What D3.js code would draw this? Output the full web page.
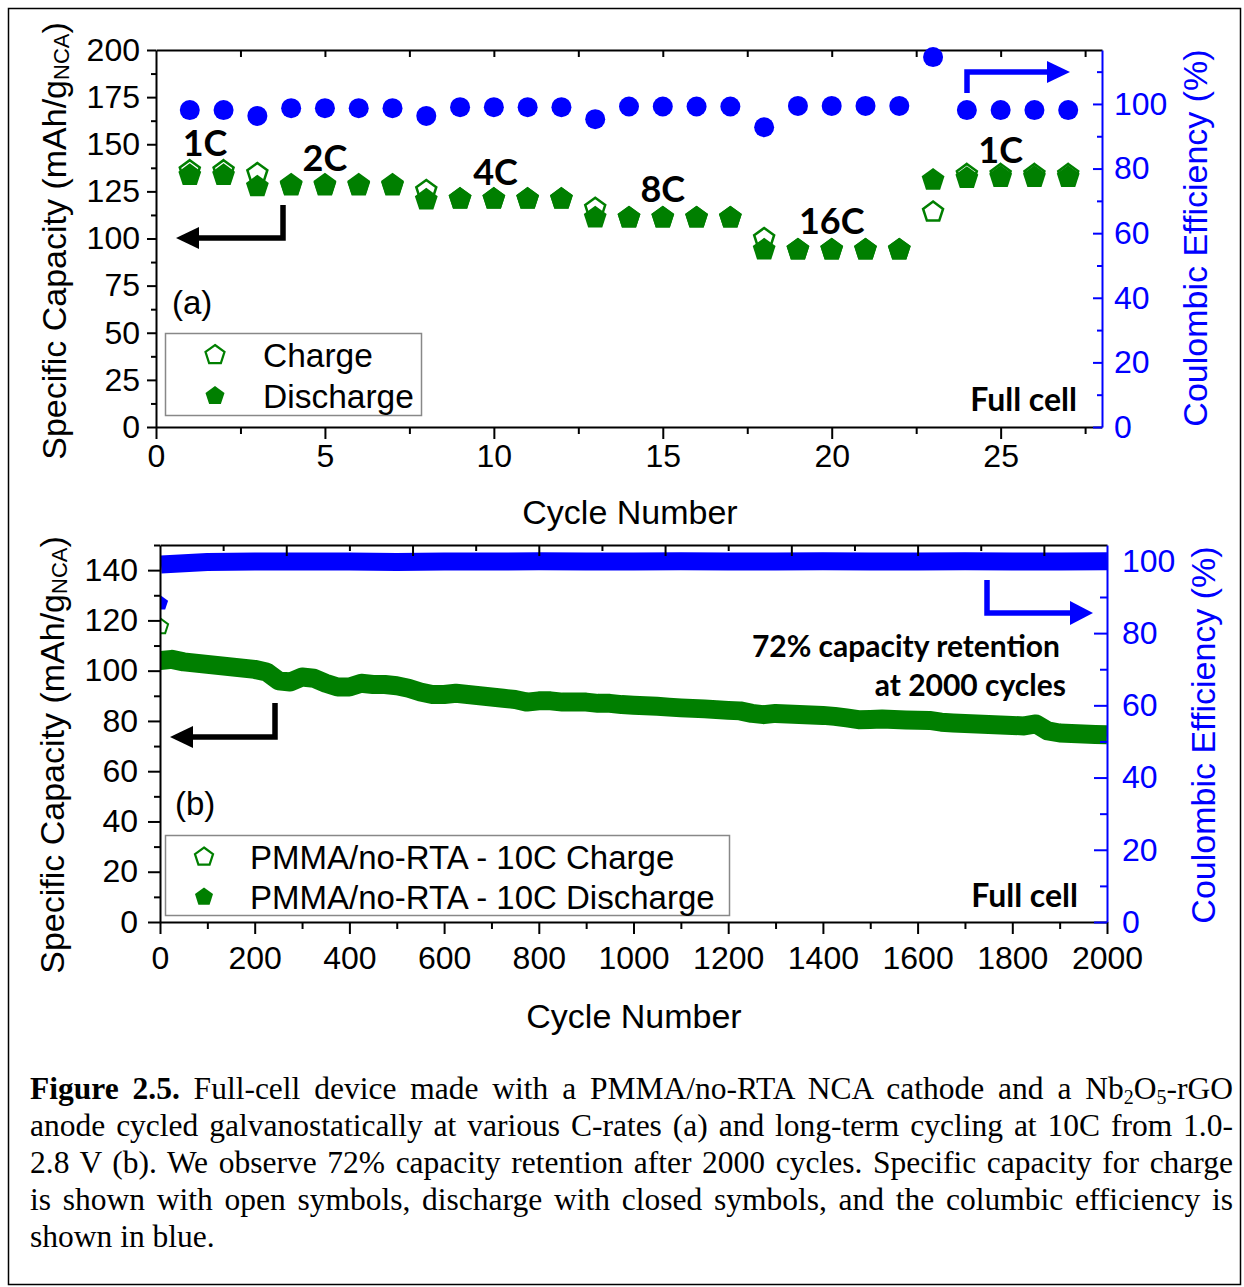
<!DOCTYPE html>
<html>
<head>
<meta charset="utf-8">
<script src="https://cdn.jsdelivr.net/npm/d3@7"></script>
<style>
  body { margin: 0; background: #fff; }
</style>
</head>
<body>
<div id="fig"></div>
<script>
"use strict";

// ---- panel (a): rate test ----
const rateCycles = [1, 2, 3, 4, 5, 6, 7, 8, 9, 10, 11, 12, 13, 14, 15, 16, 17, 18, 19, 20, 21, 22, 23, 24, 25, 26, 27];
const rateCharge = [136, 136, 134.5, 128.5, 128.5, 128.5, 128.5, 125.5, 121, 121, 121, 121, 116, 111, 111, 111, 111, 100, 94, 94, 94, 94, 114, 134, 134, 134, 134];
const rateDischarge = [133.5, 133.5, 127.5, 128, 128, 128, 128, 120.5, 121, 121, 121, 121, 111, 111, 111, 111, 111, 94, 94, 94, 94, 94, 131, 132, 132.5, 132.5, 132.5];
const rateCE = [98.1, 98.1, 96.3, 98.7, 98.7, 98.7, 98.7, 96.3, 99, 99, 99, 99, 95.3, 99.2, 99.2, 99.2, 99.2, 92.8, 99.4, 99.4, 99.4, 99.4, 114.5, 98.1, 98.1, 98.1, 98.1];
const rateLabels = ["1C", "2C", "4C", "8C", "16C", "1C"];

// ---- panel (b): long-term 10C ----
const longCycles = [0, 25, 50, 75, 100, 125, 150, 175, 200, 225,
  250, 275, 300, 325, 350, 375, 400, 425, 450, 475,
  500, 525, 550, 575, 600, 625, 650, 675, 700, 725,
  750, 775, 800, 825, 850, 875, 900, 925, 950, 975,
  1000, 1025, 1050, 1075, 1100, 1125, 1150, 1175, 1200, 1225,
  1250, 1275, 1300, 1325, 1350, 1375, 1400, 1425, 1450, 1475,
  1500, 1525, 1550, 1575, 1600, 1625, 1650, 1675, 1700, 1725,
  1750, 1775, 1800, 1825, 1850, 1875, 1900, 1925, 1950, 1975, 2000];
const longDischarge = [104, 104.5, 103.5, 103, 102.5, 102, 101.5, 101, 100.5, 99.5,
  96, 95.5, 97.5, 97, 95, 93.5, 93.5, 95, 94.5, 94.5,
  94, 93, 91.5, 90.5, 90.5, 91, 90.5, 90, 89.5, 89,
  88.5, 87.5, 88, 88, 87.5, 87.5, 87.5, 87, 87, 86.5,
  86.2, 86, 85.8, 85.5, 85.2, 85, 84.8, 84.5, 84.2, 84,
  83, 82.5, 83, 82.8, 82.6, 82.4, 82.2, 81.8, 81.2, 80.5,
  80.6, 80.8, 80.6, 80.4, 80.3, 80.2, 79.5, 79.2, 79, 78.8,
  78.6, 78.4, 78.2, 78, 78.8, 76, 75.2, 75, 74.8, 74.6, 74.5];
const ceCycles = [2, 100, 200, 300, 400, 500, 600, 700, 800, 900, 1000, 1100, 1200, 1300, 1400, 1500, 1600, 1700, 1800, 1900, 2000];
const ceLong = [99.0, 99.7, 99.8, 99.8, 99.8, 99.7, 99.8, 99.8, 99.9, 99.8, 99.8, 99.9, 99.8, 99.8, 99.9, 99.8, 99.8, 99.9, 99.8, 99.8, 99.9];
const firstCycle = 1;
const firstCharge = 117.5;
const firstCE = 88.3;

const legendA = ["Charge", "Discharge"];
const legendB = ["PMMA/no-RTA - 10C Charge", "PMMA/no-RTA - 10C Discharge"];

const green = "#007f00";
const blue = "#0000ff";
const sans = "'Liberation Sans', Arial, sans-serif";
const boldFont = "Lato, 'Open Sans', sans-serif";

const svg = d3
  .select("#fig")
  .append("svg")
  .attr("width", 1244)
  .attr("height", 1287)
  .style("font-family", sans);

svg.append("rect")
  .attr("x", 8.5).attr("y", 8.5)
  .attr("width", 1232).attr("height", 1276)
  .attr("fill", "none").attr("stroke", "#000").attr("stroke-width", 1.5);

const pentagon = function (r) {
  const pts = [0, 1, 2, 3, 4].map((k) => {
    const a = -Math.PI / 2 + (k * 2 * Math.PI) / 5;
    return [r * Math.cos(a), r * Math.sin(a)];
  });
  return "M" + pts.map((p) => p.join(",")).join("L") + "Z";
};

const styleAxis = function (g, color) {
  g.select(".domain").attr("stroke", color).attr("stroke-width", 2);
  g.selectAll(".tick line").attr("stroke", color).attr("stroke-width", 2);
  g.selectAll(".tick text").attr("fill", color).attr("font-size", 32).attr("font-family", sans);
};

const minorOnly = function (g, color) {
  g.select(".domain").remove();
  g.selectAll(".tick line").attr("stroke", color).attr("stroke-width", 2);
};

const arrow = function (pts, tip, dir, half, color) {
  svg.append("path")
    .attr("d", d3.line()(pts))
    .attr("fill", "none").attr("stroke", color).attr("stroke-width", 5.5);
  const len = 23 * dir;
  svg.append("path")
    .attr("d", `M${tip[0]},${tip[1]}L${tip[0] - len},${tip[1] - half}L${tip[0] - len},${tip[1] + half}Z`)
    .attr("fill", color);
};

// ================= panel (a) =================
const xA = d3.scaleLinear().domain([0, 28]).range([156, 1102]);
const yA = d3.scaleLinear().domain([0, 200]).range([427, 50]);
const yA2 = d3.scaleLinear().domain([0, 116.7]).range([427, 50]);

// top axis
svg.append("g").attr("transform", "translate(0,50)")
  .call(d3.axisTop(xA).tickValues([2.5, 5, 7.5, 10, 12.5, 15, 17.5, 20, 22.5, 25, 27.5]).tickSize(-7).tickSizeOuter(0).tickFormat(""))
  .call((g) => styleAxis(g, "#000"));
// bottom axis
svg.append("g").attr("transform", "translate(0,427)")
  .call(d3.axisBottom(xA).tickValues([2.5, 7.5, 12.5, 17.5, 22.5, 27.5]).tickSize(7).tickFormat(""))
  .call((g) => minorOnly(g, "#000"));
svg.append("g").attr("transform", "translate(0,427)")
  .call(d3.axisBottom(xA).tickValues([0, 5, 10, 15, 20, 25]).tickSize(12).tickSizeOuter(0).tickPadding(5))
  .call((g) => styleAxis(g, "#000"));
// left axis
svg.append("g").attr("transform", "translate(156,0)")
  .call(d3.axisLeft(yA).tickValues([12.5, 37.5, 62.5, 87.5, 112.5, 137.5, 162.5, 187.5]).tickSize(5).tickFormat(""))
  .call((g) => minorOnly(g, "#000"));
svg.append("g").attr("transform", "translate(156,0)")
  .call(d3.axisLeft(yA).tickValues([0, 25, 50, 75, 100, 125, 150, 175, 200]).tickSize(9).tickSizeOuter(0).tickPadding(7))
  .call((g) => styleAxis(g, "#000"));
// right axis
svg.append("g").attr("transform", "translate(1102,0)")
  .call(d3.axisRight(yA2).tickValues([10, 30, 50, 70, 90, 110]).tickSize(-5).tickFormat(""))
  .call((g) => minorOnly(g, blue));
svg.append("g").attr("transform", "translate(1102,0)")
  .call(d3.axisRight(yA2).tickValues([0, 20, 40, 60, 80, 100]).tickSize(-9).tickSizeOuter(0).tickPadding(12))
  .call((g) => styleAxis(g, blue));

// data (a)
svg.append("g").selectAll("circle")
  .data(rateCycles)
  .enter()
  .append("circle")
  .attr("cx", (d) => xA(d))
  .attr("cy", (d, i) => yA2(rateCE[i]))
  .attr("r", 10)
  .attr("fill", blue);

svg.append("g").selectAll("path")
  .data(rateCycles)
  .enter()
  .append("path")
  .attr("transform", (d, i) => `translate(${xA(d)},${yA(rateCharge[i])})`)
  .attr("d", pentagon(10.5))
  .attr("fill", "#fff").attr("stroke", green).attr("stroke-width", 2.5);

svg.append("g").selectAll("path")
  .data(rateCycles)
  .enter()
  .append("path")
  .attr("transform", (d, i) => `translate(${xA(d)},${yA(rateDischarge[i])})`)
  .attr("d", pentagon(12))
  .attr("fill", green);

const ratePos = [[1.45, 151], [5, 143], [10.05, 136], [15, 127], [20, 110], [25, 147.5]];
svg.append("g").selectAll("text")
  .data(rateLabels)
  .enter()
  .append("text")
  .attr("x", (d, i) => xA(ratePos[i][0]))
  .attr("y", (d, i) => yA(ratePos[i][1]))
  .attr("text-anchor", "middle")
  .attr("dominant-baseline", "central")
  .attr("font-family", boldFont)
  .attr("font-weight", "bold")
  .attr("font-size", 36)
  .text((d) => d);

svg.append("text").attr("x", 172).attr("y", 302).attr("dominant-baseline", "central")
  .attr("font-size", 33).text("(a)");
svg.append("text").attr("x", 1077).attr("y", 398).attr("dominant-baseline", "central")
  .attr("text-anchor", "end").attr("font-family", boldFont).attr("font-weight", "bold")
  .attr("font-size", 32).text("Full cell");

arrow([[283, 205], [283, 238], [198, 238]], [176, 238], -1, 11, "#000");
arrow([[967, 93], [967, 72], [1048, 72]], [1070, 72], 1, 11, blue);

// legend (a)
svg.append("rect").attr("x", 165.5).attr("y", 333.5).attr("width", 256).attr("height", 82)
  .attr("fill", "#fff").attr("stroke", "#888").attr("stroke-width", 1.5);
legendA.forEach((t, i) => {
  const yy = 355 + i * 41;
  svg.append("path").attr("transform", `translate(215,${yy})`).attr("d", pentagon(10))
    .attr("fill", i === 0 ? "#fff" : green).attr("stroke", green).attr("stroke-width", i === 0 ? 2.2 : 0);
  svg.append("text").attr("x", 263).attr("y", yy).attr("dominant-baseline", "central")
    .attr("font-size", 33.5).text(t);
});

// axis titles
const yTitle = function (x, y) {
  const t = svg.append("text")
    .attr("transform", `translate(${x},${y}) rotate(-90)`)
    .attr("text-anchor", "middle")
    .attr("dominant-baseline", "central")
    .attr("font-size", 34);
  t.append("tspan").text("Specific Capacity (mAh/g");
  t.append("tspan").attr("font-size", 22).attr("dy", 7).text("NCA");
  t.append("tspan").attr("dy", -7).text(")");
};
const y2Title = function (x, y) {
  svg.append("text")
    .attr("transform", `translate(${x},${y}) rotate(-90)`)
    .attr("text-anchor", "middle")
    .attr("dominant-baseline", "central")
    .attr("font-size", 34)
    .attr("fill", blue)
    .text("Coulombic Efficiency (%)");
};
yTitle(54, 241);
y2Title(1195, 238);
svg.append("text").attr("x", 630).attr("y", 512).attr("text-anchor", "middle")
  .attr("dominant-baseline", "central").attr("font-size", 34).text("Cycle Number");

// ================= panel (b) =================
const xB = d3.scaleLinear().domain([0, 2000]).range([160, 1107]);
const yB = d3.scaleLinear().domain([0, 150]).range([922, 545]);
const yB2 = d3.scaleLinear().domain([0, 104.4]).range([922, 545]);
const xTopB = d3.scaleLinear().domain([0, 15]).range([160, 1107]);

svg.append("defs").append("clipPath").attr("id", "clipB")
  .append("rect").attr("x", 160).attr("y", 545).attr("width", 947).attr("height", 377);

const plotB = svg.append("g").attr("clip-path", "url(#clipB)");

plotB.append("path")
  .datum(ceCycles)
  .attr("d", d3.line().x((d) => xB(d)).y((d, i) => yB2(ceLong[i])))
  .attr("fill", "none").attr("stroke", blue).attr("stroke-width", 18).attr("stroke-linejoin", "round");

plotB.append("path")
  .datum(longCycles)
  .attr("d", d3.line().x((d) => xB(d)).y((d, i) => yB(longDischarge[i])))
  .attr("fill", "none").attr("stroke", green).attr("stroke-width", 19).attr("stroke-linejoin", "round");

plotB.append("path")
  .attr("transform", `translate(${xB(firstCycle)},${yB(firstCharge)})`)
  .attr("d", pentagon(8))
  .attr("fill", "#fff").attr("stroke", green).attr("stroke-width", 2);
plotB.append("path")
  .attr("transform", `translate(${xB(firstCycle)},${yB2(firstCE)})`)
  .attr("d", pentagon(8))
  .attr("fill", blue);

// axes (b)
svg.append("g").attr("transform", "translate(0,545)")
  .call(d3.axisTop(xTopB).tickValues([1, 3, 5, 7, 9, 11, 13]).tickSize(-6).tickFormat(""))
  .call((g) => minorOnly(g, "#000"));
svg.append("g").attr("transform", "translate(0,545)")
  .call(d3.axisTop(xTopB).tickValues([2, 4, 6, 8, 10, 12, 14]).tickSize(-11).tickSizeOuter(0).tickFormat(""))
  .call((g) => styleAxis(g, "#000"));
svg.append("g").attr("transform", "translate(0,922)")
  .call(d3.axisBottom(xB).tickValues([100, 300, 500, 700, 900, 1100, 1300, 1500, 1700, 1900]).tickSize(7).tickFormat(""))
  .call((g) => minorOnly(g, "#000"));
svg.append("g").attr("transform", "translate(0,922)")
  .call(d3.axisBottom(xB).tickValues([0, 200, 400, 600, 800, 1000, 1200, 1400, 1600, 1800, 2000])
    .tickFormat(d3.format("d")).tickSize(12).tickSizeOuter(0).tickPadding(12))
  .call((g) => styleAxis(g, "#000"));
svg.append("g").attr("transform", "translate(160,0)")
  .call(d3.axisLeft(yB).tickValues([10, 30, 50, 70, 90, 110, 130, 150]).tickSize(6).tickFormat(""))
  .call((g) => minorOnly(g, "#000"));
svg.append("g").attr("transform", "translate(160,0)")
  .call(d3.axisLeft(yB).tickValues([0, 20, 40, 60, 80, 100, 120, 140]).tickSize(12).tickSizeOuter(0).tickPadding(10))
  .call((g) => styleAxis(g, "#000"));
svg.append("g").attr("transform", "translate(1107,0)")
  .call(d3.axisRight(yB2).tickValues([10, 30, 50, 70, 90]).tickSize(-7).tickFormat(""))
  .call((g) => minorOnly(g, blue));
svg.append("g").attr("transform", "translate(1107,0)")
  .call(d3.axisRight(yB2).tickValues([0, 20, 40, 60, 80, 100]).tickSize(-13).tickSizeOuter(0).tickPadding(15))
  .call((g) => styleAxis(g, blue));

svg.append("text").attr("x", 175).attr("y", 803).attr("dominant-baseline", "central")
  .attr("font-size", 33).text("(b)");
svg.append("text").attr("x", 1078).attr("y", 894).attr("dominant-baseline", "central")
  .attr("text-anchor", "end").attr("font-family", boldFont).attr("font-weight", "bold")
  .attr("font-size", 32).text("Full cell");
svg.append("text").attr("x", 1060).attr("y", 645).attr("dominant-baseline", "central")
  .attr("text-anchor", "end").attr("font-family", boldFont).attr("font-weight", "bold")
  .attr("font-size", 30).text("72% capacity retention");
svg.append("text").attr("x", 1066).attr("y", 684).attr("dominant-baseline", "central")
  .attr("text-anchor", "end").attr("font-family", boldFont).attr("font-weight", "bold")
  .attr("font-size", 30).text("at 2000 cycles");

arrow([[275, 703], [275, 737], [192, 737]], [170, 737], -1, 11, "#000");
arrow([[987, 580], [987, 613], [1071, 613]], [1093, 613], 1, 12, blue);

// legend (b)
svg.append("rect").attr("x", 165.5).attr("y", 835.5).attr("width", 564).attr("height", 80)
  .attr("fill", "#fff").attr("stroke", "#888").attr("stroke-width", 1.5);
legendB.forEach((t, i) => {
  const yy = 857 + i * 40;
  svg.append("path").attr("transform", `translate(204,${yy})`).attr("d", pentagon(9.5))
    .attr("fill", i === 0 ? "#fff" : green).attr("stroke", green).attr("stroke-width", i === 0 ? 2.2 : 0);
  svg.append("text").attr("x", 250).attr("y", yy).attr("dominant-baseline", "central")
    .attr("font-size", 33).text(t);
});

yTitle(52, 755);
y2Title(1203, 735);
svg.append("text").attr("x", 634).attr("y", 1016).attr("text-anchor", "middle")
  .attr("dominant-baseline", "central").attr("font-size", 34).text("Cycle Number");

// ================= caption =================
const capLines = [
  [["b", "Figure 2.5."], ["n", " Full-cell device made with a PMMA/no-RTA NCA cathode and a Nb"], ["s", "2"], ["n", "O"], ["s", "5"], ["n", "-rGO"]],
  [["n", "anode cycled galvanostatically at various C-rates (a) and long-term cycling at 10C from 1.0-"]],
  [["n", "2.8 V (b). We observe 72% capacity retention after 2000 cycles. Specific capacity for charge"]],
  [["n", "is shown with open symbols, discharge with closed symbols, and the columbic efficiency is"]],
  [["n", "shown in blue."]],
];
capLines.forEach((line, li) => {
  const t = svg.append("text")
    .attr("x", 30)
    .attr("y", 1099 + li * 37)
    .attr("font-family", "'Liberation Serif', 'Times New Roman', serif")
    .attr("font-size", 31.5);
  let spaces = 0;
  let wasSub = false;
  line.forEach(([kind, str]) => {
    const ts = t.append("tspan").text(str);
    if (kind === "b") ts.attr("font-weight", "bold");
    if (kind === "s") {
      ts.attr("font-size", 20).attr("dy", 5);
      wasSub = true;
    } else if (wasSub) {
      ts.attr("dy", -5);
      wasSub = false;
    }
    spaces += (str.match(/ /g) || []).length;
  });
  if (li < capLines.length - 1) {
    const natural = t.node().getComputedTextLength();
    t.attr("word-spacing", (1203 - natural) / spaces);
  }
});
</script>
</body>
</html>
